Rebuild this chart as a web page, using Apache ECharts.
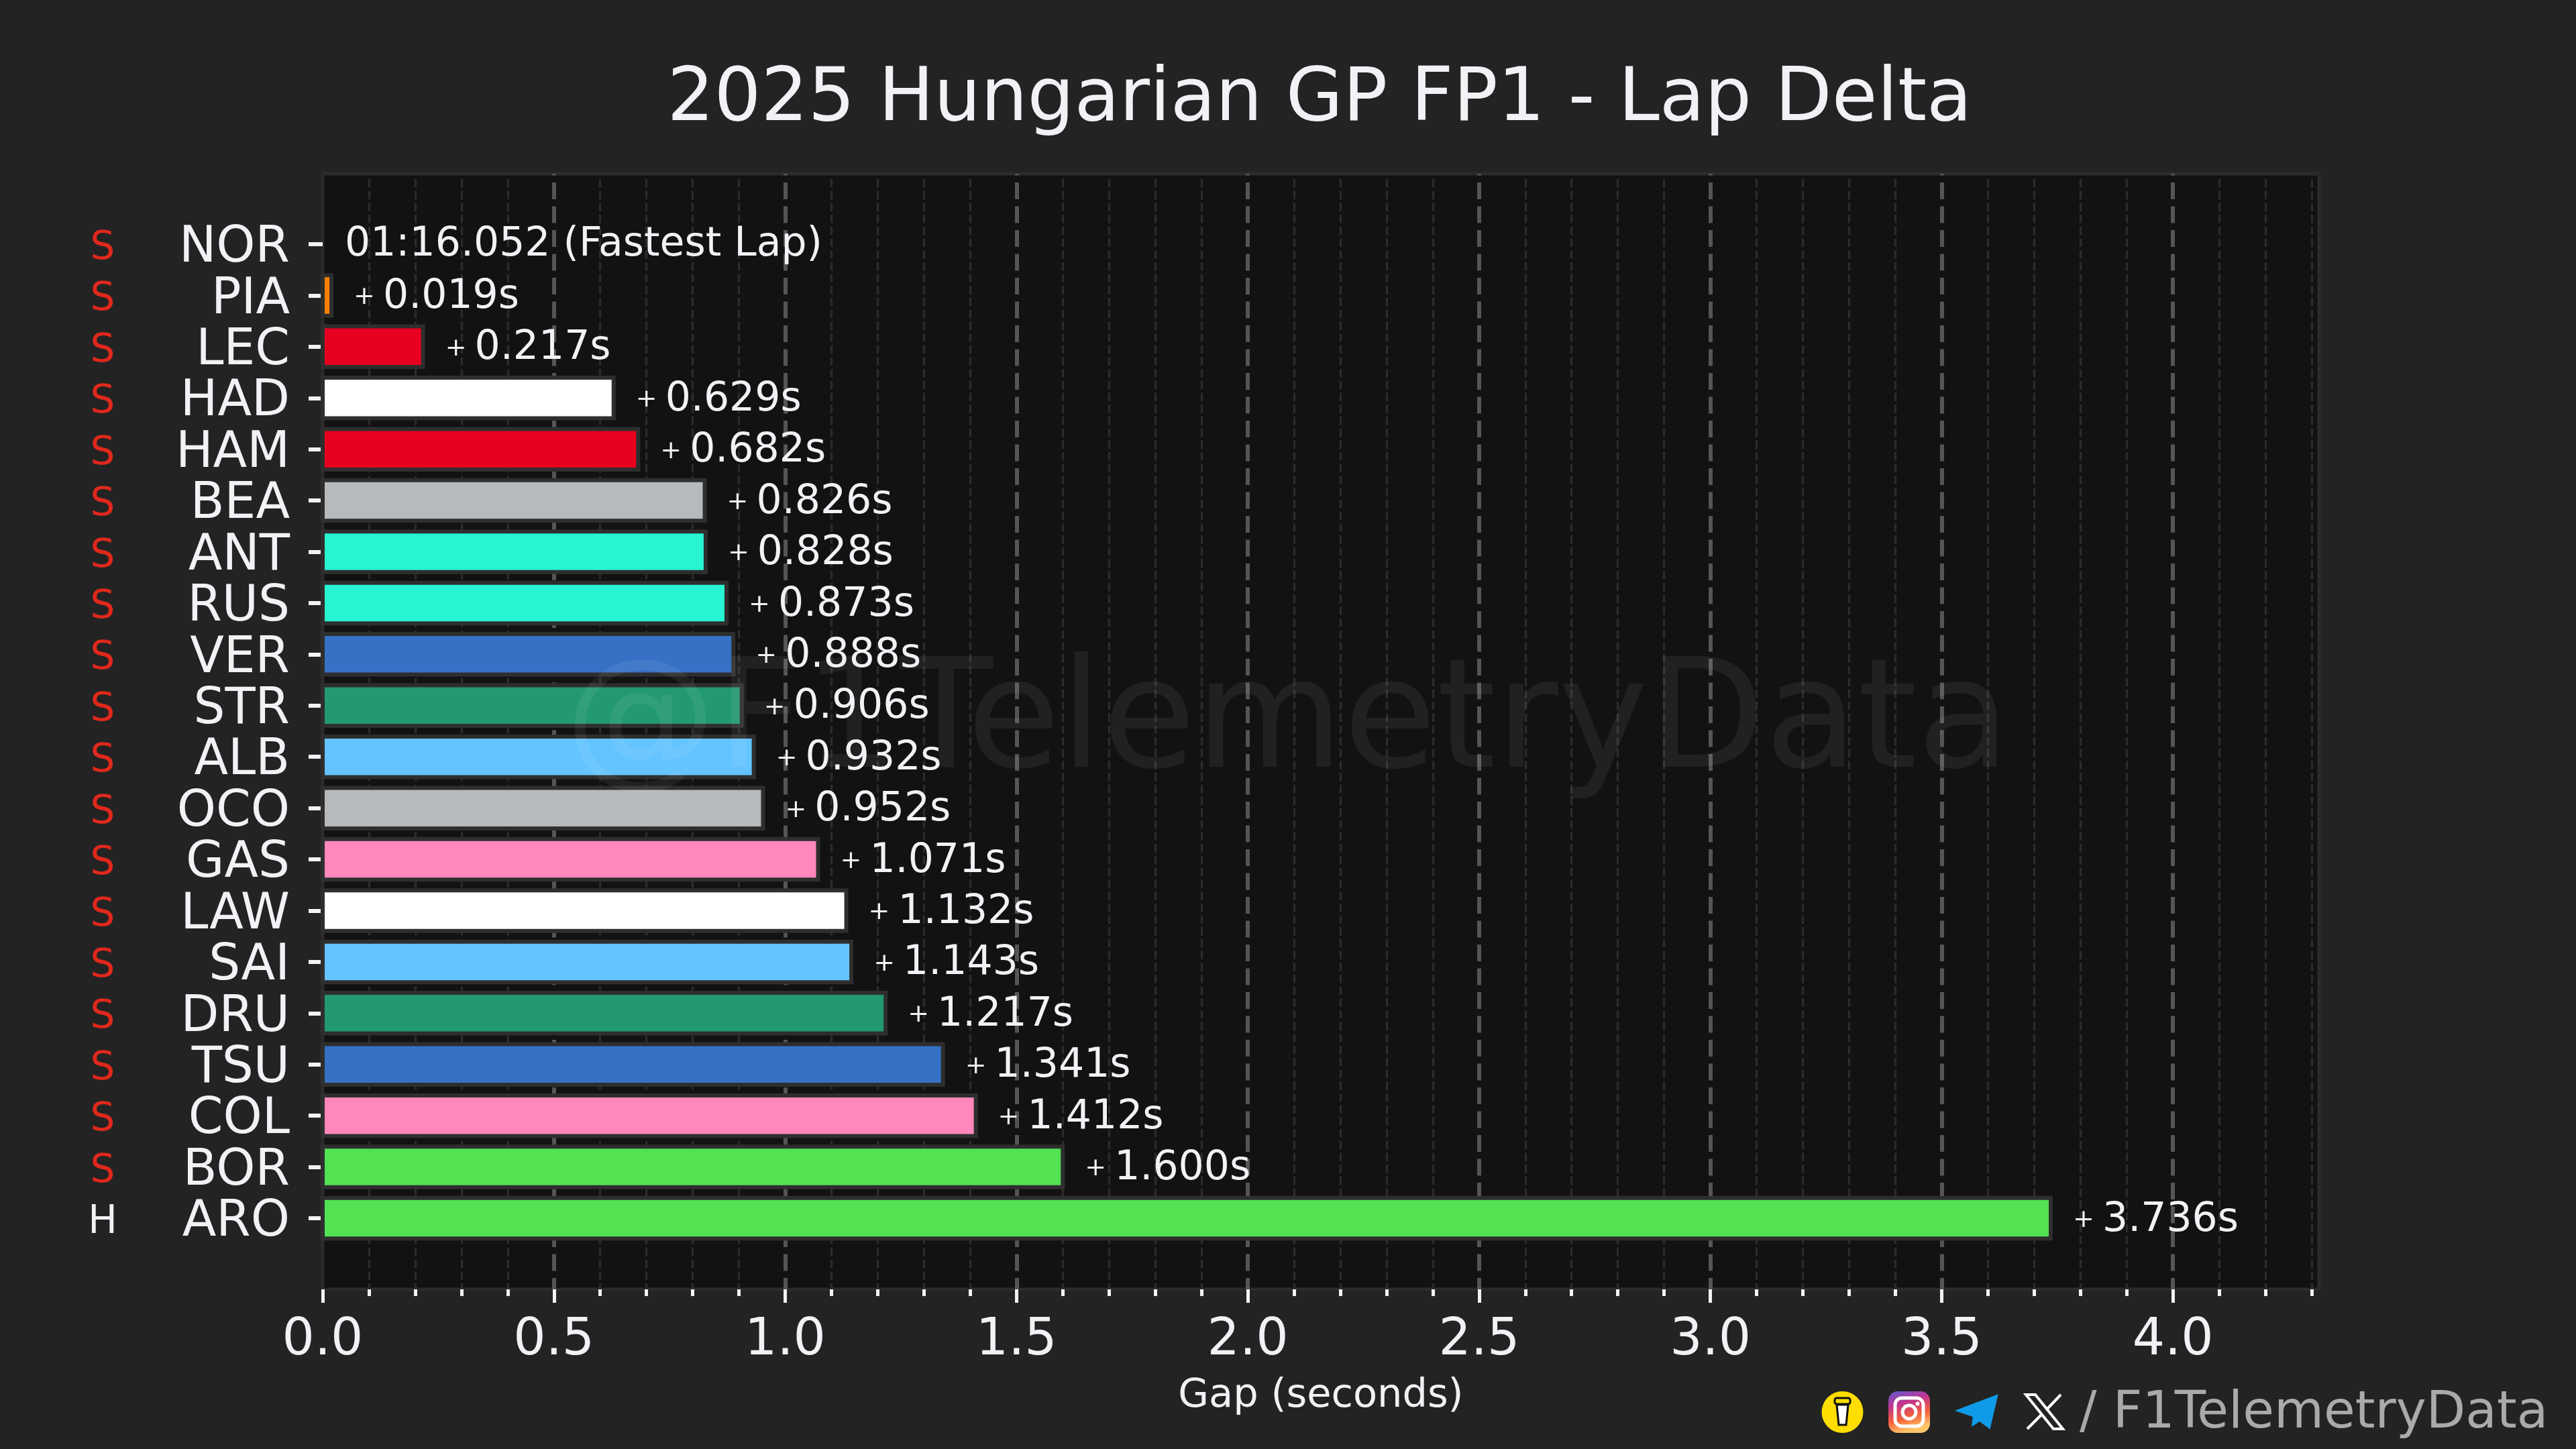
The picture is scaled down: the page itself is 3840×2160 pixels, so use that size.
<!DOCTYPE html>
<html><head><meta charset="utf-8">
<style>html,body{margin:0;padding:0;background:#232323}#c{width:3840px;height:2160px}</style>
<script src="https://cdn.jsdelivr.net/npm/echarts@6/dist/echarts.min.js"></script>
</head><body><div id="c"></div>
<script>
const drivers = ['NOR','PIA','LEC','HAD','HAM','BEA','ANT','RUS','VER','STR','ALB','OCO','GAS','LAW','SAI','DRU','TSU','COL','BOR','ARO'];
const gaps = [0,0.019,0.217,0.629,0.682,0.826,0.828,0.873,0.888,0.906,0.932,0.952,1.071,1.132,1.143,1.217,1.341,1.412,1.600,3.736];
const tyres = ['S','S','S','S','S','S','S','S','S','S','S','S','S','S','S','S','S','S','S','H'];
const teamColors = ['#ff8000','#ff8000','#e80020','#ffffff','#e80020','#b6babd','#27f4d2','#27f4d2','#3671c6','#229971','#64c4ff','#b6babd','#ff87bc','#ffffff','#64c4ff','#229971','#3671c6','#ff87bc','#52e252','#52e252'];
const xTicks = [0,0.5,1,1.5,2,2.5,3,3.5,4];
const fastestLap = '01:16.052 (Fastest Lap)';
const titleText = '2025 Hungarian GP FP1 - Lap Delta';
const xName = 'Gap (seconds)';
const handle = 'F1TelemetryData';

const FONT = '"DejaVu Sans"';
const INK = '#f0f2f5';
const XMAX = 4.316;
const BAR_H = 60.5;
const chart = echarts.init(document.getElementById('c'), null, {renderer:'canvas', width:3840, height:2160});
chart.setOption({
  backgroundColor:'#232323',
  animation:false,
  textStyle:{fontFamily:FONT},
  title:{text:titleText,top:95,itemGap:0,padding:0,left:1967,textAlign:'center',
    textStyle:{color:INK,fontSize:110,fontWeight:'normal',fontFamily:FONT}},
  grid:[
    {left:481,right:3840-3457,top:259,bottom:2160-1922,show:true,backgroundColor:'#121212',borderColor:'#2e2a2a',borderWidth:5},
    {left:481,right:3840-3457,top:325.8,bottom:2160-1854.2}
  ],
  xAxis:[
    {gridIndex:0,type:'value',min:0,max:XMAX,interval:0.5,
     name:xName,nameLocation:'middle',nameGap:130,
     nameTextStyle:{color:INK,fontSize:59,fontFamily:FONT},
     axisLine:{show:false},
     axisTick:{show:true,length:20,customValues:xTicks,lineStyle:{color:INK,width:5}},
     minorTick:{show:true,splitNumber:5,length:10,lineStyle:{color:INK,width:5}},
     axisLabel:{show:true,customValues:xTicks,margin:39,color:INK,fontSize:76,fontFamily:FONT,formatter:v=>v.toFixed(1)},
     splitLine:{show:true,showMaxLine:true,showMinLine:false,lineStyle:{color:'#555555',width:6,type:[25,10.5],dashOffset:22.5}},
     minorSplitLine:{show:true,lineStyle:{color:'#2e2a2a',width:3.3,type:[12.5,5.2],dashOffset:9.7}}
    },
    {gridIndex:1,type:'value',min:0,max:XMAX,show:false}
  ],
  yAxis:[
    {gridIndex:0,type:'value',min:0,max:1,show:false},
    {gridIndex:1,type:'category',inverse:true,data:drivers,
     axisLine:{show:false},
     axisTick:{show:true,alignWithLabel:true,length:21,lineStyle:{color:INK,width:6}},
     axisLabel:{margin:49,color:INK,fontSize:74,fontFamily:FONT,interval:0,verticalAlign:'top',lineHeight:14},
     splitLine:{show:false}},
    {gridIndex:1,type:'category',inverse:true,position:'left',offset:0,data:tyres,
     axisLine:{show:false},axisTick:{show:false},
     axisLabel:{margin:328,align:'center',fontSize:58,fontFamily:FONT,interval:0,verticalAlign:'top',lineHeight:14,
       color:(v,i)=>v==='S'?'#e0281c':INK},
     splitLine:{show:false}}
  ],
  series:[{
    type:'bar',xAxisIndex:1,yAxisIndex:1,barWidth:BAR_H,
    data:gaps.map((v,i)=>({value:v,itemStyle:{color:teamColors[i]},
      label: i===0 ? {show:true,formatter:'{v|'+fastestLap+'}',offset:[33,1]} : undefined})),
    label:{show:true,position:'right',distance:0,offset:[33,3],color:INK,
      rich:{p:{fontSize:38,color:INK,fontFamily:FONT},v:{fontSize:60,color:INK,fontFamily:FONT}},
      formatter:p=>'{p|+ }{v|'+p.value.toFixed(3)+'s}'},
    z:3
  },{
    type:'custom',xAxisIndex:1,yAxisIndex:1,silent:true,z:4,
    data:gaps.map((v,i)=>[v,i]),
    encode:{x:0,y:1},
    renderItem:(params,api)=>{
      const v=api.value(0);
      if(!v) return null;
      const end=api.coord([v,api.value(1)]);
      const start=api.coord([0,api.value(1)]);
      return {type:'rect',shape:{x:start[0],y:end[1]-BAR_H/2,width:end[0]-start[0],height:BAR_H},
        style:{fill:null,stroke:'#2e2e2e',lineWidth:6}};
    }
  }],
  graphic:[
    {type:'text',z:10,left:842,top:971,style:{text:'@'+handle,fill:'rgba(255,255,255,0.065)',font:'226px '+FONT}},
    {type:'text',z:10,left:3100,top:2070,style:{text:'/ '+handle,fill:'#aaaaaa',font:'76px '+FONT}},
    {type:'circle',z:10,shape:{cx:2746.5,cy:2105,r:31},style:{fill:'#ffdd00'}},
    {type:'polygon',z:11,shape:{points:[[2738,2094],[2755,2094],[2752,2124],[2741,2124]]},style:{fill:'#ffffff',stroke:'#111',lineWidth:3}},
    {type:'rect',z:11,shape:{x:2735,y:2084,width:23,height:9,r:3},style:{fill:'#ffdd00',stroke:'#111',lineWidth:3}},
    {type:'rect',z:10,shape:{x:2815,y:2074,width:62,height:62,r:14},style:{fill:{type:'linear',x:0,y:0,x2:0.3,y2:1,colorStops:[{offset:0,color:'#5b5bd6'},{offset:0.35,color:'#c1358f'},{offset:0.7,color:'#f5603a'},{offset:1,color:'#fdc468'}]}}},
    {type:'rect',z:11,shape:{x:2825,y:2084,width:42,height:42,r:10},style:{fill:'none',stroke:'#fff',lineWidth:5}},
    {type:'circle',z:11,shape:{cx:2846,cy:2105,r:10},style:{fill:'none',stroke:'#fff',lineWidth:5}},
    {type:'circle',z:11,shape:{cx:2858.5,cy:2092.5,r:3},style:{fill:'#fff'}},
    {type:'polygon',z:10,shape:{points:[[2978.6,2078.3],[2914,2102.7],[2940.7,2112],[2939,2127],[2951,2119],[2966.5,2130.7]]},style:{fill:'#0f9be8'}},
    {type:'polygon',z:10,shape:{points:[[3020,2079],[3034,2079],[3075,2130],[3061,2130]]},style:{fill:'none',stroke:'#fff',lineWidth:4}},
    {type:'polyline',z:10,shape:{points:[[3072,2079],[3050,2102]]},style:{stroke:'#fff',lineWidth:4,fill:'none'}},
    {type:'polyline',z:10,shape:{points:[[3044,2108],[3022,2130]]},style:{stroke:'#fff',lineWidth:4,fill:'none'}}
  ]
});
</script></body></html>
